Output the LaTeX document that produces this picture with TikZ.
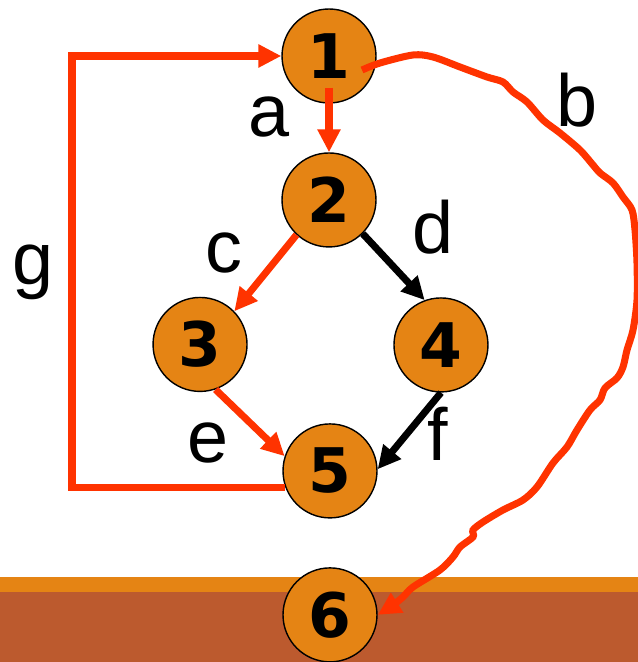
\documentclass[tikz,border=0pt]{standalone}
\usepackage{fontspec}
\setmainfont{Liberation Sans}
\newfontfamily\numfont{DejaVu Sans}
\usetikzlibrary{positioning}
\usetikzlibrary{calc}
\usetikzlibrary{arrows.meta}

\definecolor{nodeorange}{RGB}{229,132,20}
\definecolor{groundbrown}{RGB}{188,90,46}
\definecolor{pathred}{RGB}{255,51,0}

\tikzset{
    block/.style={circle, draw=black, line width=0.8pt, fill=nodeorange, minimum size=1.88cm, inner sep=0pt, font=\numfont\bfseries\fontsize{35}{40}\selectfont},
    taken/.style={draw=pathred, line width=4pt, -{Triangle[length=0.46cm,width=0.44cm]}},
    nottaken/.style={draw=black, line width=4pt, -{Triangle[length=0.46cm,width=0.44cm]}},
    edgelabel/.style={font=\fontsize{42}{50}\selectfont, inner sep=0pt},
}

\begin{document}
\begin{tikzpicture}[x=0.02cm, y=0.02cm, on grid]
    \useasboundingbox (0,0) rectangle (638,662);

    % ground
    \fill[groundbrown] (0,0) rectangle (638,70);
    \fill[nodeorange] (0,70) rectangle (638,85);

    \node[block] (n1) at (329,606) {1};
    \node[block, below=2.88cm of n1] (n2) {2};
    \node[block, below left=2.89cm and 2.58cm of n2] (n3) {3};
    \node[block, below right=2.9cm and 2.24cm of n2] (n4) {4};
    \node[block, below right=2.53cm and 2.6cm of n3] (n5) {5};
    \node[block, below=2.88cm of n5] (n6) {6};

    % labels
    \node[edgelabel] (la) at (269,545) {a};
    \node[edgelabel] (lb) at (577,562) {b};
    \node[edgelabel] (lc) at (224,409) {c};
    \node[edgelabel] (ld) at (433,435) {d};
    \node[edgelabel] (le) at (208,219) {e};
    \node[edgelabel] (lf) at (438,228) {f};
    \node[edgelabel] (lg) at (33,390) {g};

    % edges
    \coordinate (gtop) at (72,606);
    \draw[taken] (n5.200) -| (gtop) -- (n1.west);
    \draw[taken] ([shift={(0,-32)}]n1.center) -- (n2.north);
    \draw[taken] (n2.227) -- (n3.44);
    \draw[nottaken] (n2.-45) -- (n4.110);
    \draw[taken] (n3.-71) -- (n5.162);
    \draw[nottaken] (n4.south) -- (n5.2);

    % b
    \draw[taken] plot[smooth] coordinates {([shift={(33,-14)}]n1.center)
        (380,599) (413,607) (433,605) (460,595) (487,585) (503,580) (513,570)
        (527,560) (543,542) (560,529) (580,512) (593,497) (600,489) (613,479)
        (623,465) (632,452) (635,432) (637,399) (637,362) (633,332) (627,312)
        (623,295) (617,284) (605,274) (600,262) (590,252) (577,232) (567,215)
        (553,199) (537,175) (523,162) (503,152) (483,140) (473,132) (473,125)
        (460,115) (453,105) (440,92) (413,75) (403,65) (393,57) (n6.east)};
\end{tikzpicture}
\end{document}
